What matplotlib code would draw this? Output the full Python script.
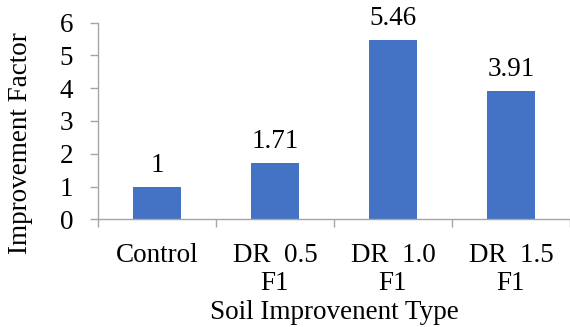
import matplotlib.pyplot as plt

plt.rcParams["font.family"] = ["Liberation Serif", "DejaVu Serif"]

categories = ["Control", "DR  0.5\nF1", "DR  1.0\nF1", "DR  1.5\nF1"]
values = [1, 1.71, 5.46, 3.91]
value_labels = ["1", "1.71", "5.46", "3.91"]

BAR_COLOR = "#4472C4"
AXIS_COLOR = "#A6A6A6"
FS = 19.5


def main():
    fig = plt.figure(figsize=(5.7, 3.27), dpi=100)
    ax = fig.add_axes([0.172, 0.329, 0.828, 0.602])

    x = list(range(len(categories)))
    ax.bar(x, values, width=0.4, color=BAR_COLOR, zorder=2)
    for xi, v, lab in zip(x, values, value_labels):
        ax.annotate(lab, (xi, v), xytext=(0, 6.5), textcoords="offset points",
                    ha="center", va="bottom", fontsize=FS)

    ax.set_xlim(-0.5, len(categories) - 0.5)
    ax.set_ylim(0, 6)
    ax.set_yticks(range(0, 7))

    ax.set_xticks(x)
    ax.set_xticklabels(categories, fontsize=FS, linespacing=1.15)
    ax.set_xticks([i - 0.5 for i in range(len(categories) + 1)], minor=True)
    ax.tick_params(axis="x", which="major", length=0, pad=17)
    ax.tick_params(axis="x", which="minor", length=6, width=1, color=AXIS_COLOR)
    ax.tick_params(axis="y", length=6, width=1, color=AXIS_COLOR,
                   labelsize=FS, pad=12)

    for side in ("top", "right"):
        ax.spines[side].set_visible(False)
    for side in ("left", "bottom"):
        ax.spines[side].set_color(AXIS_COLOR)
        ax.spines[side].set_linewidth(1)

    ax.set_ylabel("Improvement Factor", fontsize=FS, va="center")
    ax.yaxis.set_label_coords(-0.165, 0.389)
    ax.set_xlabel("Soil Improvenent Type", fontsize=FS, labelpad=3)

    fig.savefig("out.png", dpi=100)


if __name__ == "__main__":
    main()
